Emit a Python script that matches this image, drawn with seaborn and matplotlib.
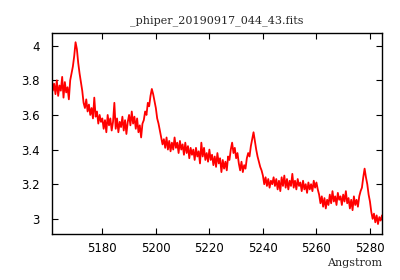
import numpy as np
import seaborn as sns
import matplotlib
matplotlib.use("Agg")
import matplotlib.pyplot as plt

# spectrum, 0.5 Angstrom steps starting at 5161.0
start_wave = 5161.0
step = 0.5
flux = [
    # 5161.0 - 5167.5
    3.84, 3.74, 3.78, 3.72, 3.80, 3.71, 3.77, 3.74, 3.82, 3.70, 3.79, 3.73, 3.76, 3.69,
    # 5168.0 - 5179.5
    3.80, 3.84, 3.88, 3.94, 4.02, 3.98, 3.90, 3.84, 3.79, 3.74, 3.67, 3.64,
    3.69, 3.62, 3.66, 3.60, 3.64, 3.58, 3.70, 3.59, 3.62, 3.55, 3.60, 3.56,
    # 5180.0 - 5189.5
    3.58, 3.52, 3.57, 3.50, 3.60, 3.54, 3.58, 3.51, 3.56, 3.67,
    3.52, 3.58, 3.50, 3.56, 3.53, 3.59, 3.51, 3.57, 3.49, 3.56,
    # 5190.0 - 5203.5
    3.60, 3.54, 3.62, 3.55, 3.59, 3.52, 3.58, 3.50, 3.54, 3.47, 3.55, 3.57, 3.62, 3.60,
    3.67, 3.65, 3.71, 3.75, 3.72, 3.68, 3.64, 3.58, 3.55, 3.51, 3.47, 3.43, 3.46, 3.41,
    # 5204.0 - 5213.5
    3.47, 3.40, 3.45, 3.39, 3.44, 3.40, 3.47, 3.41, 3.44, 3.38,
    3.45, 3.40, 3.43, 3.37, 3.44, 3.38, 3.42, 3.35, 3.41, 3.37,
    # 5214.0 - 5223.5
    3.40, 3.34, 3.41, 3.36, 3.39, 3.32, 3.44, 3.36, 3.41, 3.34,
    3.38, 3.33, 3.40, 3.34, 3.37, 3.31, 3.36, 3.30, 3.38, 3.32,
    # 5224.0 - 5233.5
    3.35, 3.27, 3.34, 3.29, 3.33, 3.28, 3.36, 3.34, 3.40, 3.44,
    3.38, 3.41, 3.35, 3.38, 3.32, 3.28, 3.33, 3.27, 3.31, 3.29,
    # 5234.0 - 5239.5
    3.35, 3.38, 3.36, 3.42, 3.46, 3.50, 3.45, 3.40, 3.36, 3.33, 3.30, 3.28,
    # 5240.0 - 5249.5
    3.25, 3.20, 3.24, 3.19, 3.23, 3.18, 3.22, 3.20, 3.24, 3.19,
    3.23, 3.17, 3.22, 3.16, 3.24, 3.19, 3.25, 3.18, 3.23, 3.17,
    # 5250.0 - 5260.5
    3.22, 3.19, 3.26, 3.18, 3.22, 3.17, 3.23, 3.19, 3.21, 3.16, 3.22,
    3.17, 3.20, 3.15, 3.21, 3.17, 3.20, 3.16, 3.22, 3.18, 3.21, 3.17,
    # 5261.0 - 5271.5
    3.14, 3.09, 3.13, 3.07, 3.12, 3.06, 3.11, 3.08, 3.14, 3.09, 3.16,
    3.10, 3.13, 3.08, 3.15, 3.11, 3.13, 3.08, 3.14, 3.10, 3.16, 3.09,
    # 5272.0 - 5284.5
    3.12, 3.06, 3.11, 3.05, 3.13, 3.08, 3.11, 3.07, 3.13, 3.16, 3.18, 3.24, 3.29,
    3.24, 3.20, 3.14, 3.10, 3.04, 3.00, 3.03, 2.98, 3.02, 2.97, 3.01, 2.99, 3.02,
]
wave = start_wave + step * np.arange(len(flux))

x_ticks = [5180, 5200, 5220, 5240, 5260, 5280]
y_ticks = [3.0, 3.2, 3.4, 3.6, 3.8, 4.0]
y_labels = ["3", "3.2", "3.4", "3.6", "3.8", "4"]

sns.set_style("ticks")
plt.rcParams["font.family"] = ["DejaVu Sans"]

fig = plt.figure(figsize=(4, 2.8), dpi=100)
ax = fig.add_axes([0.13, 0.164, 0.825, 0.718])

sns.lineplot(x=wave, y=flux, color="red", linewidth=1.3, ax=ax)

ax.set_xlim(5161.2, 5284.5)
ax.set_ylim(2.912, 4.073)
ax.set_xticks(x_ticks)
ax.set_yticks(y_ticks)
ax.set_yticklabels(y_labels)
ax.tick_params(direction="in", length=4, width=0.8, top=True, right=True,
               labelsize=8.5, colors="black")
ax.tick_params(axis="y", pad=9)
ax.tick_params(axis="x", pad=6)
for s in ax.spines.values():
    s.set_color("black")
    s.set_linewidth(1.0)

ax.set_title("_phiper_20190917_044_43.fits", family="DejaVu Serif", fontsize=8, pad=7)
ax.set_xlabel("Angstrom", family="DejaVu Serif", fontsize=8)
ax.xaxis.set_label_coords(1.0, -0.12)
ax.xaxis.label.set_horizontalalignment("right")

fig.savefig("out.png", dpi=100)
